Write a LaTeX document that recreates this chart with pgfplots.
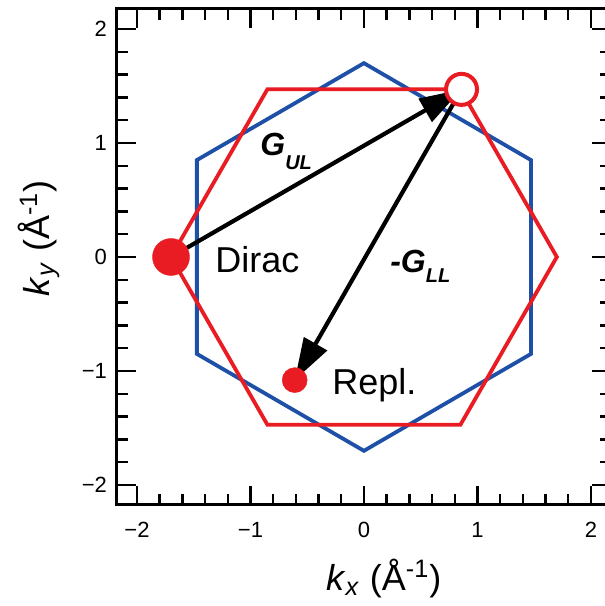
\documentclass[border=0pt]{standalone}
\usepackage{fontspec}
\setmainfont{Liberation Sans}
\usepackage{pgfplots}
\pgfplotsset{compat=1.18}
\usetikzlibrary{arrows.meta}
\definecolor{hexblue}{RGB}{30,80,168}
\definecolor{hexred}{RGB}{232,28,34}

\begin{document}
\begin{tikzpicture}
\begin{axis}[
  scale only axis, width=247.4pt, height=248pt,
  xmin=-2.18, xmax=2.18, ymin=-2.175, ymax=2.175,
  axis line style={line width=1.5pt},
  xtick={-2,-1,0,1,2}, ytick={-2,-1,0,1,2},
  xticklabels={−2,−1,0,1,2}, yticklabels={−2,−1,0,1,2},
  minor tick num=4,
  tick align=inside,
  major tick length=9.5pt, minor tick length=5.5pt,
  tick style={black, line width=1.2pt},
  tick label style={font=\fontsize{11}{13}\selectfont},
  xticklabel style={yshift=-5pt},
  yticklabel style={xshift=-1.3pt},
  xlabel={\textit{k}\textsubscript{\textit{x}} (Å\textsuperscript{-1})},
  ylabel={\textit{k}\textsubscript{\textit{y}} (Å\textsuperscript{-1})},
  xlabel style={at={(axis description cs:0.54,-0.172)}, anchor=base, inner sep=0pt, font=\fontsize{18}{20}\selectfont},
  ylabel style={at={(axis description cs:-0.135,0.538)}, anchor=base, inner sep=0pt, font=\fontsize{18}{20}\selectfont},
  clip=false,
]
\addplot[hexblue, line width=1.9pt, line join=miter] coordinates {(0,1.7) (1.472,0.85) (1.472,-0.85) (0,-1.7) (-1.472,-0.85) (-1.472,0.85) (0,1.7) (1.472,0.85)};
\addplot[hexred, line width=1.9pt, line join=miter] coordinates {(1.7,0) (0.85,1.472) (-0.85,1.472) (-1.7,0) (-0.85,-1.472) (0.85,-1.472) (1.7,0) (0.85,1.472)};
\addplot[only marks, mark=*, mark size=9.25pt, color=hexred, mark options={fill=hexred, draw=hexred, line width=0.2pt}] coordinates {(-1.7,0)};
\addplot[only marks, mark=*, mark size=6.25pt, color=hexred, mark options={fill=hexred, draw=hexred, line width=0.2pt}] coordinates {(-0.61,-1.08)};
\addplot[only marks, mark=*, mark size=7.75pt, color=hexred, mark options={fill=white, draw=hexred, line width=2pt}] coordinates {(0.86,1.47)};
\addplot[black, line width=2.1pt, -{Triangle[length=21pt,width=13pt]}] coordinates {(-1.7,0) (0.86,1.47)};
\addplot[black, line width=2.1pt, -{Triangle[length=21pt,width=13pt]}] coordinates {(0.86,1.47) (-0.61,-1.08)};
\node[anchor=base west, inner sep=0pt, font=\fontsize{18}{20}\selectfont] at (axis cs:-1.313,-0.14) {Dirac};
\node[anchor=base west, inner sep=0pt, font=\fontsize{18}{20}\selectfont] at (axis cs:-0.282,-1.21) {Repl.};
\node[anchor=base west, inner sep=0pt] at (axis cs:-0.916,0.886) {{\fontsize{16}{18}\selectfont\bfseries\itshape G}\raisebox{-7pt}{\fontsize{10}{12}\selectfont\bfseries\itshape UL}};
\node[anchor=base west, inner sep=0pt] at (axis cs:0.229,-0.14) {{\fontsize{16}{18}\selectfont\bfseries\itshape -G}\raisebox{-5pt}{\fontsize{10}{12}\selectfont\bfseries\itshape LL}};
\coordinate (bbA) at (axis cs:-3.207,-3.061);
\coordinate (bbB) at (axis cs:2.123,2.254);
\end{axis}
\pgfresetboundingbox
\useasboundingbox (bbA) rectangle (bbB);
\end{tikzpicture}
\end{document}
